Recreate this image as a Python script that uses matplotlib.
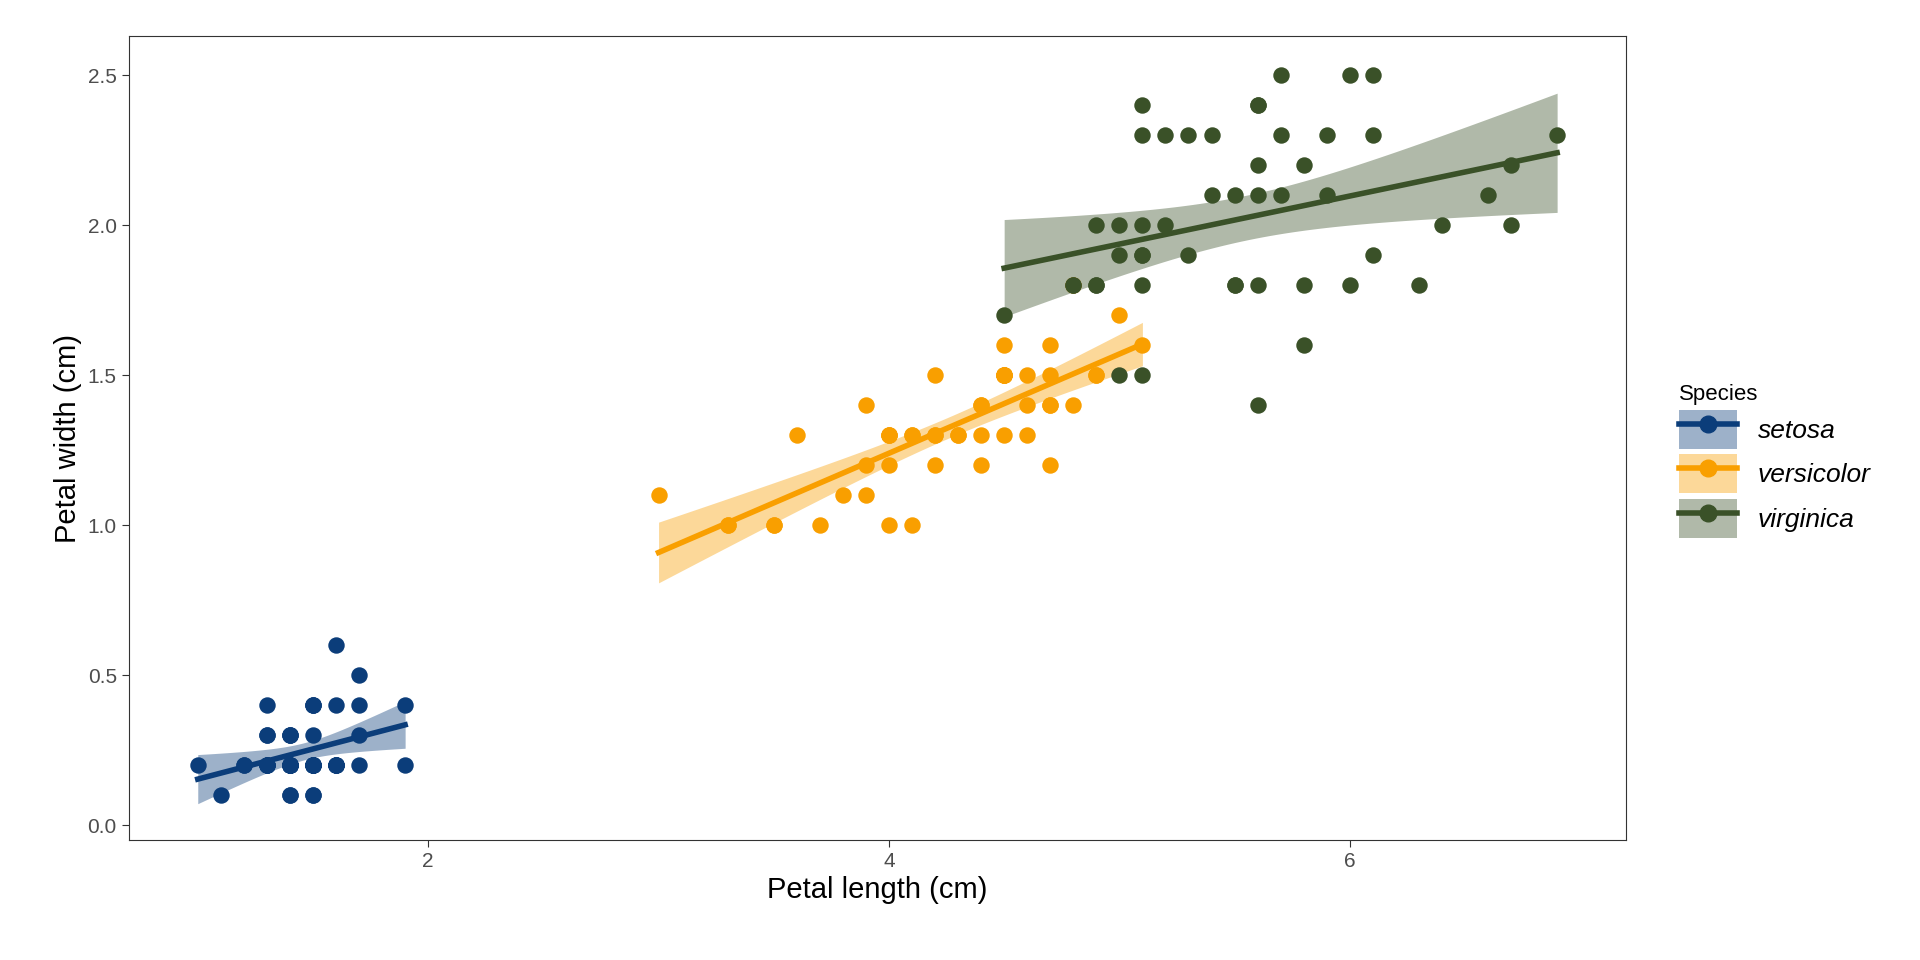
import numpy as np
import matplotlib.pyplot as plt
from matplotlib.lines import Line2D
from matplotlib.patches import Patch

plt.rcParams['font.family'] = ['Liberation Sans', 'DejaVu Sans']

species = ["setosa", "versicolor", "virginica"]
colors = ["#0B3D7A", "#F99F00", "#3A5128"]

setosa_len = [1.4,1.4,1.3,1.5,1.4,1.7,1.4,1.5,1.4,1.5,1.5,1.6,1.4,1.1,1.2,1.5,1.3,1.4,1.7,1.5,1.7,1.5,1.0,1.7,1.9,1.6,1.6,1.5,1.4,1.6,1.6,1.5,1.5,1.4,1.5,1.2,1.3,1.4,1.3,1.5,1.3,1.3,1.3,1.6,1.9,1.4,1.6,1.4,1.5,1.4]
setosa_wid = [0.2,0.2,0.2,0.2,0.2,0.4,0.3,0.2,0.2,0.1,0.2,0.2,0.1,0.1,0.2,0.4,0.4,0.3,0.3,0.3,0.2,0.4,0.2,0.5,0.2,0.2,0.4,0.2,0.2,0.2,0.2,0.4,0.1,0.2,0.2,0.2,0.2,0.1,0.2,0.2,0.3,0.3,0.2,0.6,0.4,0.3,0.2,0.2,0.2,0.2]
versicolor_len = [4.7,4.5,4.9,4.0,4.6,4.5,4.7,3.3,4.6,3.9,3.5,4.2,4.0,4.7,3.6,4.4,4.5,4.1,4.5,3.9,4.8,4.0,4.9,4.7,4.3,4.4,4.8,5.0,4.5,3.5,3.8,3.7,3.9,5.1,4.5,4.5,4.7,4.4,4.1,4.0,4.4,4.6,4.0,3.3,4.2,4.2,4.2,4.3,3.0,4.1]
versicolor_wid = [1.4,1.5,1.5,1.3,1.5,1.3,1.6,1.0,1.3,1.4,1.0,1.5,1.0,1.4,1.3,1.4,1.5,1.0,1.5,1.1,1.8,1.3,1.5,1.2,1.3,1.4,1.4,1.7,1.5,1.0,1.1,1.0,1.2,1.6,1.5,1.6,1.5,1.3,1.3,1.3,1.2,1.4,1.2,1.0,1.3,1.2,1.3,1.3,1.1,1.3]
virginica_len = [6.0,5.1,5.9,5.6,5.8,6.6,4.5,6.3,5.8,6.1,5.1,5.3,5.5,5.0,5.1,5.3,5.5,6.7,6.9,5.0,5.7,4.9,6.7,4.9,5.7,6.0,4.8,4.9,5.6,5.8,6.1,6.4,5.6,5.1,5.6,6.1,5.6,5.5,4.8,5.4,5.6,5.1,5.1,5.9,5.7,5.2,5.0,5.2,5.4,5.1]
virginica_wid = [2.5,1.9,2.1,1.8,2.2,2.1,1.7,1.8,1.8,2.5,2.0,1.9,2.1,2.0,2.4,2.3,1.8,2.2,2.3,1.5,2.3,2.0,2.0,1.8,2.1,1.8,1.8,1.8,2.1,1.6,1.9,2.0,2.2,1.5,1.4,2.3,2.4,1.8,1.8,2.1,2.4,2.3,1.9,2.3,2.5,2.3,1.9,2.0,2.3,1.8]

data = [(setosa_len, setosa_wid), (versicolor_len, versicolor_wid), (virginica_len, virginica_wid)]

fig = plt.figure(figsize=(19.2, 9.6), dpi=100)
ax = fig.add_axes([0.067, 0.125, 0.78, 0.837])

for (xl, yl), c in zip(data, colors):
    x = np.array(xl); y = np.array(yl)
    n = len(x)
    b, a = np.polyfit(x, y, 1)
    xs = np.linspace(x.min(), x.max(), 80)
    fit = a + b * xs
    resid = y - (a + b * x)
    s = np.sqrt(np.sum(resid**2) / (n - 2))
    se = s * np.sqrt(1/n + (xs - x.mean())**2 / np.sum((x - x.mean())**2))
    t = 2.0106
    ax.fill_between(xs, fit - t*se, fit + t*se, color=c, alpha=0.4, lw=0)
    ax.plot(xs, fit, color=c, lw=4, zorder=3)
    ax.scatter(x, y, s=140, color=c, zorder=4, lw=0)

ax.set_xlim(0.70, 7.20)
ax.set_ylim(-0.05, 2.63)
ax.set_xticks([2, 4, 6])
ax.set_yticks([0, 0.5, 1.0, 1.5, 2.0, 2.5])
ax.set_yticklabels(["0.0", "0.5", "1.0", "1.5", "2.0", "2.5"])
ax.tick_params(labelsize=15, colors="#333333", length=5)
for lab in ax.get_xticklabels() + ax.get_yticklabels():
    lab.set_color("#4D4D4D")
ax.set_xlabel("Petal length (cm)", fontsize=21)
ax.set_ylabel("Petal width (cm)", fontsize=21)
for sp in ax.spines.values():
    sp.set_color("#333333")

handles = [(Patch(color=c, alpha=0.4, lw=0),
            Line2D([], [], color=c, lw=4, marker="o", markersize=12)) for c in colors]
leg = fig.legend(handles, species, loc="center left", bbox_to_anchor=(0.862, 0.52),
                 frameon=False, title="Species", title_fontsize=16,
                 prop={"size": 19, "style": "italic"}, handlelength=2.2,
                 handleheight=1.9, labelspacing=0.2)
leg._legend_box.align = "left"

fig.savefig("out.png", dpi=100)
